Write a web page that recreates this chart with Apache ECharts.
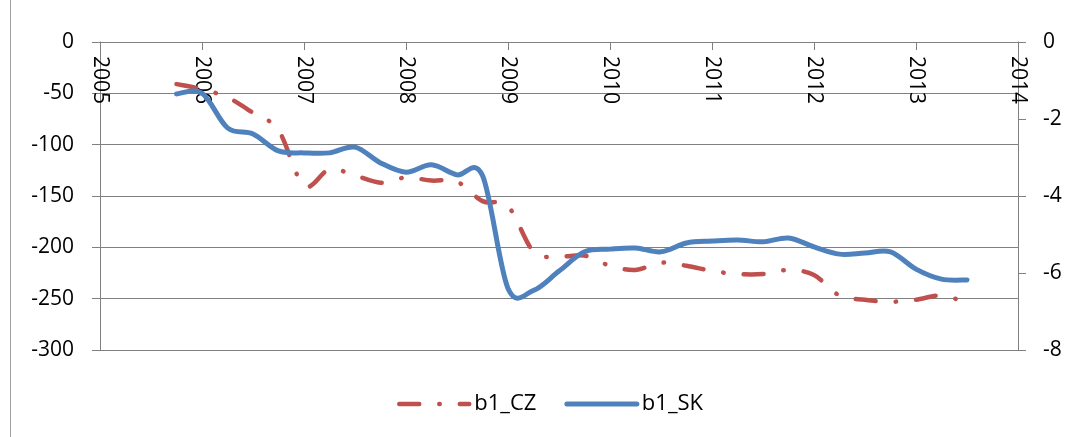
<!DOCTYPE html>
<html>
<head>
<meta charset="utf-8">
<script src="https://cdn.jsdelivr.net/npm/echarts@6/dist/echarts.min.js"></script>
<style>
html,body{margin:0;padding:0;background:#fff;}
#main{width:1070px;height:437px;}
</style>
</head>
<body>
<div id="main"></div>
<script>
// quarterly time points (years)
var times = [2005.75,2006.0,2006.25,2006.5,2006.75,2007.0,2007.25,2007.5,2007.75,2008.0,2008.25,2008.5,2008.75,2009.0,2009.25,2009.5,2009.75,2010.0,2010.25,2010.5,2010.75,2011.0,2011.25,2011.5,2011.75,2012.0,2012.25,2012.5,2012.75,2013.0,2013.25,2013.5];
// b1_CZ (left axis)
var b1_CZ = [-41,-46,-54,-69,-86,-140,-124,-130,-137,-132,-135,-136,-155,-160,-204,-209,-208,-218,-222,-215,-218,-223,-226,-226,-222,-227,-247,-251,-253,-251,-247,-254];
// b1_SK (right axis)
var b1_SK = [-1.35,-1.33,-2.23,-2.39,-2.83,-2.88,-2.88,-2.73,-3.14,-3.38,-3.19,-3.45,-3.47,-6.40,-6.45,-5.95,-5.45,-5.38,-5.35,-5.45,-5.22,-5.17,-5.14,-5.19,-5.09,-5.32,-5.51,-5.48,-5.45,-5.90,-6.16,-6.18];
var seriesNames = ['b1_CZ','b1_SK'];
var yearMin = 2005, yearMax = 2014;
var leftTicks = {min:-300,max:0,interval:50};
var rightTicks = {min:-8,max:0,interval:2};

function pairs(xs, ys){ return xs.map(function(x,i){return [x, ys[i]];}); }

var FONT = 'Open Sans';
var FS = 21;
var GRAY = '#808080';
var RED = '#C0504D', BLUE = '#4F81BD';
var RED_DASH = [20,20,0.5,20];

// smooth curve (cardinal / Catmull-Rom) through points already mapped by the axes
function smoothPath(pts){
  var d = 'M' + pts[0][0] + ' ' + pts[0][1];
  for (var i = 0; i < pts.length - 1; i++){
    var p0 = pts[i-1] || pts[i], p1 = pts[i], p2 = pts[i+1], p3 = pts[i+2] || pts[i+1];
    var c1x = p1[0] + (p2[0]-p0[0])/6, c1y = p1[1] + (p2[1]-p0[1])/6;
    var c2x = p2[0] - (p3[0]-p1[0])/6, c2y = p2[1] - (p3[1]-p1[1])/6;
    d += ' C' + c1x + ' ' + c1y + ' ' + c2x + ' ' + c2y + ' ' + p2[0] + ' ' + p2[1];
  }
  return d;
}
function curveSeries(name, yIdx, ys, color, width, dash){
  var data = pairs(times, ys);
  return {
    name:name, type:'custom', yAxisIndex:yIdx, data:data, silent:true,
    encode:{x:0,y:1},
    renderItem:function(params, api){
      if (params.dataIndex !== 0) return null;
      var pts = data.map(function(p){ return api.coord(p); });
      return {
        type:'path', shape:{pathData:smoothPath(pts)},
        style:{stroke:color, lineWidth:width, fill:null, lineDash:dash, lineCap:'round', lineJoin:'round'}
      };
    }
  };
}

var chart = echarts.init(document.getElementById('main'), null, {renderer:'canvas'});
chart.setOption({
  animation:false,
  backgroundColor:'#fff',
  textStyle:{fontFamily:FONT,color:'#000'},
  grid:{left:100,right:52,top:42,bottom:87,containLabel:false},
  xAxis:{
    type:'value',position:'top',min:yearMin,max:yearMax,interval:1,
    axisLine:{show:true,onZero:false,lineStyle:{color:GRAY,width:1}},
    axisTick:{show:true,inside:true,length:8,lineStyle:{color:GRAY}},
    axisLabel:{inside:true,rotate:90,margin:14,fontSize:FS,color:'#000',fontFamily:FONT,
      formatter:function(v){return String(v);}},
    splitLine:{show:false}
  },
  yAxis:[{
    type:'value',position:'left',min:leftTicks.min,max:leftTicks.max,interval:leftTicks.interval,
    axisLine:{show:true,onZero:false,lineStyle:{color:GRAY,width:1}},
    axisTick:{show:true,length:8,lineStyle:{color:GRAY}},
    axisLabel:{margin:26,fontSize:FS,color:'#000',fontFamily:FONT},
    splitLine:{show:true,lineStyle:{color:GRAY,width:1}}
  },{
    type:'value',position:'right',min:rightTicks.min,max:rightTicks.max,interval:rightTicks.interval,
    axisLine:{show:true,onZero:false,lineStyle:{color:GRAY,width:1}},
    axisTick:{show:true,length:8,lineStyle:{color:GRAY}},
    axisLabel:{margin:25,fontSize:FS,color:'#000',fontFamily:FONT},
    splitLine:{show:false}
  }],
  legend:{
    bottom:17,left:392,itemWidth:70,itemHeight:14,itemGap:28,
    itemStyle:{color:'rgba(0,0,0,0)',borderWidth:0,opacity:0},
    textStyle:{fontSize:22,color:'#000',fontFamily:FONT},
    data:[
      {name:seriesNames[0],lineStyle:{color:RED,width:4.5,type:RED_DASH,cap:'round',opacity:1}},
      {name:seriesNames[1],lineStyle:{color:BLUE,width:5,type:'solid',cap:'round',opacity:1}}
    ]
  },
  graphic:[{type:'line',shape:{x1:10.5,y1:0,x2:10.5,y2:437},style:{stroke:'#a0a0a0',lineWidth:1}}],
  series:[{
    name:seriesNames[0],type:'line',yAxisIndex:0,data:pairs(times,b1_CZ),
    symbol:'none',showSymbol:false,
    lineStyle:{color:RED,width:4.5,type:RED_DASH,cap:'round',opacity:0},
    itemStyle:{color:RED}
  },{
    name:seriesNames[1],type:'line',yAxisIndex:1,data:pairs(times,b1_SK),
    symbol:'none',showSymbol:false,
    lineStyle:{color:BLUE,width:5,cap:'round',opacity:0},
    itemStyle:{color:BLUE}
  },
  curveSeries(seriesNames[0],0,b1_CZ,RED,4.5,RED_DASH),
  curveSeries(seriesNames[1],1,b1_SK,BLUE,5,null)
  ]
});
</script>
</body>
</html>
